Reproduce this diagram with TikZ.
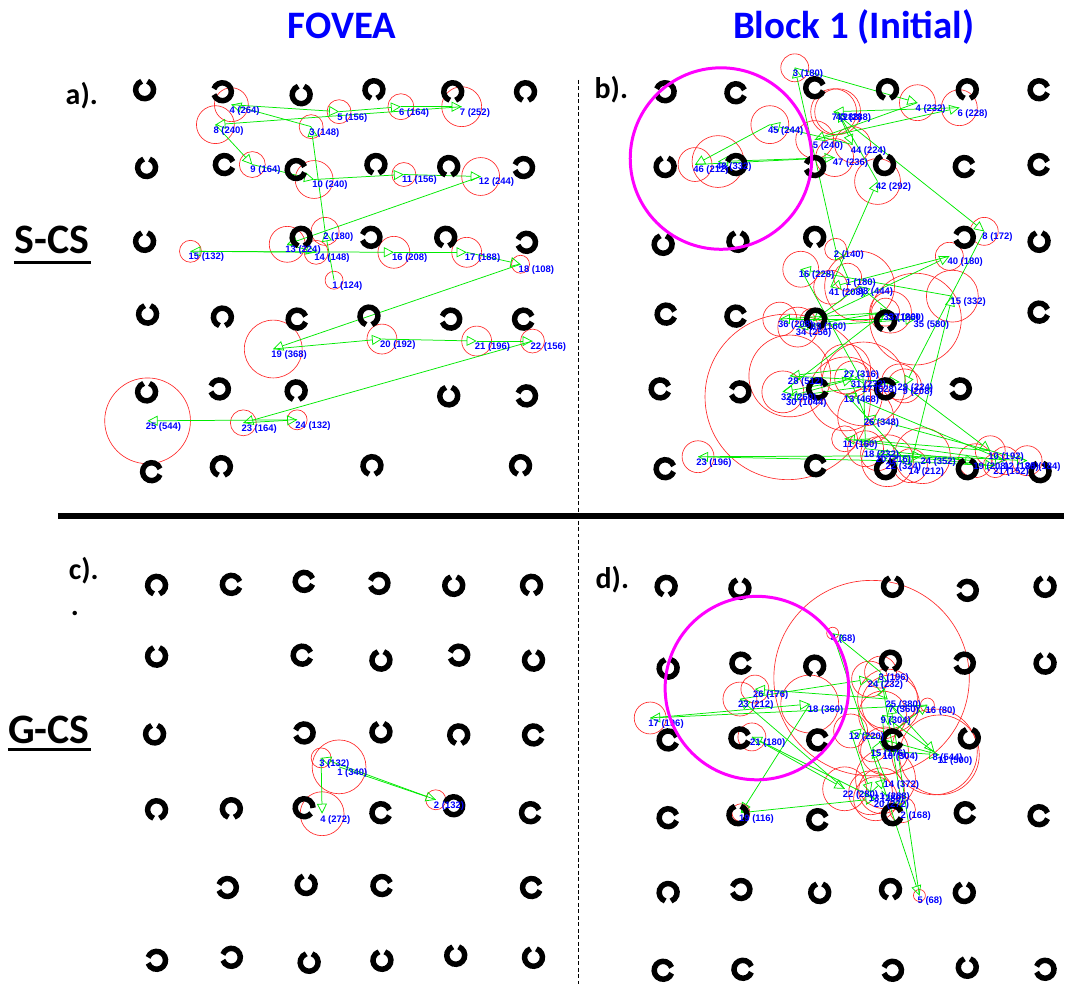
\documentclass[tikz,border=0pt]{standalone}
\usepackage{fontspec}
\setmainfont{Carlito}
\newfontfamily\lblfont{Liberation Sans}
\usetikzlibrary{arrows.meta}
\definecolor{gz}{RGB}{0,235,0}
\definecolor{fxr}{RGB}{255,40,40}
\definecolor{lblue}{RGB}{0,0,255}
\definecolor{mag}{RGB}{255,0,255}
\pgfdeclarelayer{back}
\pgfdeclarelayer{bg}
\pgfdeclarelayer{ring}
\pgfdeclarelayer{lbl}
\pgfdeclarelayer{top}
\pgfsetlayers{back,bg,main,ring,lbl,top}
\tikzset{
  lcring/.style={line width=5.5pt, black},
  fixc/.style={draw=fxr, line width=0.65pt},
  gaze/.style={draw=gz, line width=0.75pt, -{Triangle[open, length=10pt, width=10pt]}},
  fixl/.style={text=lblue, font=\lblfont\fontsize{9.5}{9.5}\selectfont\bfseries, anchor=west, inner sep=0pt},
  hdr/.style={text=lblue, font=\fontsize{39}{39}\selectfont\bfseries, inner sep=0pt},
  plab/.style={text=black, font=\fontsize{30}{30}\selectfont\bfseries, inner sep=0pt},
  rowlab/.style={text=black, font=\fontsize{42}{42}\selectfont\bfseries, inner sep=0pt},
  fovring/.style={draw=mag, line width=3pt},
}
\newcommand{\LC}[3]{\begin{pgfonlayer}{ring}\pgfmathsetmacro{\lca}{#3+19}\pgfmathsetmacro{\lcb}{#3+341}\draw[lcring] (#1,#2) ++(\lca:9) arc[start angle=\lca, end angle=\lcb, radius=9];\end{pgfonlayer}}
\newcommand{\FX}[5]{\coordinate (#1) at (#2,#3);
  \begin{pgfonlayer}{bg}\draw[fixc] (#1) circle[radius=#4];\end{pgfonlayer}
  \begin{pgfonlayer}{lbl}\node[fixl] (#1l) at (#2-2,#3+6) {#5};\end{pgfonlayer}}
\begin{document}
\begin{tikzpicture}[x=1pt,y=-1pt]
\begin{pgfonlayer}{back}
\path[use as bounding box, fill=white] (0,0) rectangle (1067,987);
\end{pgfonlayer}
% headers
\node[hdr] (t1) at (343,26) {FOVEA};
\node[hdr] (t2) at (856,27) {Block 1 (Initial)};
\node[plab] (pa) at (82,96) {a).};
\node[plab] (pb) at (613,90) {b).};
\node[plab] (pc) at (84,572) {c).};
\node[plab] (pd) at (614,581) {d).};
\node[plab] (pdot) at (75,615) {.};
\node[rowlab] (rs) at (52,241) {S-CS};
\draw[line width=3pt] (14,263) -- (91,263);
\node[rowlab] (rg) at (49,732) {G-CS};
\draw[line width=3pt] (8,752) -- (91,752);
% dividers
\draw[line width=6pt] (58,517) -- (1067,517);
\draw[line width=0.8pt, dash pattern=on 4pt off 2.5pt] (580,80) -- (580,987);

% ---------- panel a rings
\LC{145}{90}{270}\LC{223}{92}{180}\LC{302}{95}{270}\LC{375}{90}{90}\LC{454}{92}{90}\LC{527}{92}{90}
\LC{147}{168}{270}\LC{225}{165}{0}\LC{297}{170}{0}\LC{377}{165}{90}\LC{450}{167}{90}\LC{525}{168}{180}
\LC{145}{242}{270}\LC{302}{238}{90}\LC{372}{238}{180}\LC{447}{238}{90}\LC{528}{243}{180}
\LC{148}{315}{270}\LC{223}{318}{90}\LC{298}{320}{0}\LC{370}{317}{90}\LC{452}{320}{180}\LC{525}{320}{0}
\LC{147}{393}{270}\LC{220}{390}{180}\LC{297}{392}{90}\LC{450}{397}{270}\LC{528}{397}{180}
\LC{152}{473}{0}\LC{222}{468}{90}\LC{373}{467}{90}\LC{522}{467}{90}
% panel a fixations
\FX{a1}{335}{281}{9}{1 (124)}
\FX{a2}{326}{232}{14}{2 (180)}
\FX{a3}{312}{127}{12}{3 (148)}
\FX{a4}{232}{105}{17}{4 (264)}
\FX{a5}{340}{112}{12}{5 (156)}
\FX{a6}{402}{107}{13}{6 (164)}
\FX{a7}{463}{107}{20}{7 (252)}
\FX{a8}{216}{125}{19}{8 (240)}
\FX{a9}{253}{165}{13}{9 (164)}
\FX{a10}{315}{180}{19}{10 (240)}
\FX{a11}{405}{175}{12}{11 (156)}
\FX{a12}{482}{177}{19}{12 (244)}
\FX{a13}{288}{245}{18}{13 (224)}
\FX{a14}{317}{253}{12}{14 (148)}
\FX{a15}{191}{252}{11}{15 (132)}
\FX{a16}{395}{253}{16}{16 (208)}
\FX{a17}{468}{253}{15}{17 (188)}
\FX{a18}{522}{265}{9}{18 (108)}
\FX{a19}{274}{350}{29}{19 (368)}
\FX{a20}{383}{340}{15}{20 (192)}
\FX{a21}{478}{342}{15}{21 (196)}
\FX{a22}{534}{342}{12}{22 (156)}
\FX{a23}{244}{424}{13}{23 (164)}
\FX{a24}{298}{421}{10}{24 (132)}
\FX{a25}{148}{422}{43}{25 (544)}
\foreach \i [evaluate=\i as \j using int(\i+1)] in {1,...,24} {\draw[gaze] (a\i) -- (a\j);}

% ---------- panel b rings
\LC{667}{92}{180}\LC{738}{93}{0}\LC{817}{88}{0}\LC{890}{90}{90}\LC{970}{90}{90}\LC{1042}{90}{0}
\LC{667}{167}{270}\LC{738}{165}{180}\LC{817}{167}{180}\LC{887}{165}{270}\LC{967}{167}{0}\LC{1042}{165}{0}
\LC{665}{245}{270}\LC{740}{242}{270}\LC{817}{238}{90}\LC{967}{238}{180}\LC{1042}{242}{270}
\LC{668}{315}{0}\LC{738}{317}{0}\LC{818}{320}{90}\LC{888}{322}{90}\LC{1042}{313}{0}
\LC{662}{390}{0}\LC{742}{393}{180}\LC{820}{390}{0}\LC{888}{390}{0}\LC{963}{390}{180}
\LC{667}{470}{0}\LC{818}{467}{0}\LC{888}{470}{270}\LC{970}{470}{270}\LC{1043}{473}{270}
% panel b fixations
\FX{b1}{850}{278}{14}{1 (180)}
\FX{b2}{838}{250}{11}{2 (140)}
\FX{b3}{797}{68}{14}{3 (180)}
\FX{b4}{920}{103}{18}{4 (232)}
\FX{b5}{817}{140}{19}{5 (240)}
\FX{b6}{962}{108}{18}{6 (228)}
\FX{b7}{836}{112}{23}{7 (288)}
\FX{b8}{987}{232}{14}{8 (172)}
\FX{b9}{907}{387}{17}{9 (208)}
\FX{b10}{993}{452}{15}{10 (192)}
\FX{b11}{847}{440}{13}{11 (160)}
\FX{b12}{1008}{462}{14}{12 (180)}
\FX{b13}{848}{395}{37}{13 (468)}
\FX{b14}{913}{467}{17}{14 (212)}
\FX{b15}{955}{297}{26}{15 (332)}
\FX{b16}{803}{270}{18}{16 (228)}
\FX{b17}{866}{385}{42}{17 (528)}
\FX{b18}{868}{450}{18}{18 (232)}
\FX{b19}{978}{462}{17}{19 (208)}
\FX{b20}{880}{455}{17}{20 (216)}
\FX{b21}{998}{467}{12}{21 (152)}
\FX{b22}{890}{462}{26}{22 (324)}
\FX{b23}{700}{458}{16}{23 (196)}
\FX{b24}{925}{457}{28}{24 (352)}
\FX{b25}{1030}{462}{15}{25 (184)}
\FX{b26}{868}{418}{28}{26 (348)}
\FX{b27}{848}{370}{25}{27 (316)}
\FX{b28}{792}{377}{41}{28 (512)}
\FX{b29}{902}{383}{18}{29 (224)}
\FX{b30}{790}{398}{83}{30 (1044)}
\FX{b31}{855}{380}{18}{31 (232)}
\FX{b32}{785}{393}{21}{32 (260)}
\FX{b33}{888}{313}{14}{33 (180)}
\FX{b34}{800}{328}{20}{34 (256)}
\FX{b35}{918}{320}{46}{35 (580)}
\FX{b36}{782}{320}{17}{36 (208)}
\FX{b37}{893}{313}{21}{37 (260)}
\FX{b38}{862}{287}{35}{38 (444)}
\FX{b39}{815}{322}{13}{39 (160)}
\FX{b40}{952}{257}{14}{40 (180)}
\FX{b41}{833}{288}{17}{41 (208)}
\FX{b42}{880}{182}{23}{42 (292)}
\FX{b43}{840}{112}{23}{43 (288)}
\FX{b44}{855}{145}{18}{44 (224)}
\FX{b45}{772}{125}{19}{45 (244)}
\FX{b46}{697}{165}{17}{46 (212)}
\FX{b47}{837}{158}{19}{47 (236)}
\FX{b48}{720}{162}{26}{48 (332)}
\foreach \i [evaluate=\i as \j using int(\i+1)] in {1,...,47} {\draw[gaze] (b\i) -- (b\j);}
\begin{pgfonlayer}{top}
\node[fovring, circle, minimum size=182pt, inner sep=0pt] (fb) at (723,159) {};
\end{pgfonlayer}

% ---------- panel c rings
\LC{157}{587}{90}\LC{232}{586}{0}\LC{305}{583}{0}\LC{380}{585}{180}\LC{455}{587}{270}\LC{533}{587}{90}
\LC{157}{658}{270}\LC{303}{657}{0}\LC{382}{662}{270}\LC{460}{657}{180}\LC{535}{662}{270}
\LC{155}{736}{270}\LC{305}{735}{180}\LC{382}{734}{270}\LC{460}{737}{90}\LC{535}{737}{0}
\LC{157}{812}{90}\LC{232}{811}{90}\LC{305}{810}{20}\LC{382}{815}{0}\LC{455}{808}{180}\LC{532}{815}{0}
\LC{228}{890}{180}\LC{307}{887}{270}\LC{383}{888}{0}\LC{533}{890}{0}
\LC{157}{963}{180}\LC{232}{960}{180}\LC{310}{965}{270}\LC{383}{963}{270}\LC{457}{958}{270}\LC{535}{960}{270}
% panel c fixations
\FX{c1}{340}{769}{27}{1 (340)}
\FX{c2}{437}{802}{10}{2 (132)}
\FX{c3}{322}{760}{10}{3 (132)}
\FX{c4}{323}{816}{22}{4 (272)}
\draw[gaze] (c1) -- (c2);
\draw[gaze] (c2) -- (c3);
\draw[gaze] (c3) -- (c4);

% ---------- panel d rings
\LC{668}{588}{90}\LC{742}{590}{270}\LC{895}{588}{270}\LC{970}{592}{180}\LC{1048}{588}{270}
\LC{670}{670}{270}\LC{743}{665}{0}\LC{817}{668}{90}\LC{893}{663}{90}\LC{967}{665}{180}\LC{1048}{665}{270}
\LC{670}{742}{0}\LC{742}{740}{0}\LC{820}{742}{0}\LC{895}{742}{0}\LC{972}{740}{270}
\LC{670}{820}{0}\LC{740}{817}{270}\LC{820}{822}{0}\LC{895}{817}{0}\LC{968}{815}{0}\LC{1042}{818}{0}
\LC{670}{895}{90}\LC{743}{892}{180}\LC{822}{895}{270}\LC{893}{892}{90}\LC{967}{895}{270}
\LC{665}{973}{0}\LC{745}{972}{0}\LC{895}{973}{180}\LC{970}{970}{270}\LC{1048}{972}{180}
% panel d fixations
\FX{d1}{884}{793}{23}{1 (288)}
\FX{d2}{905}{812}{13}{2 (168)}
\FX{d3}{883}{674}{16}{3 (196)}
\FX{d4}{835}{635}{6}{4 (68)}
\FX{d5}{922}{898}{6}{5 (68)}
\FX{d7}{893}{706}{29}{7 (360)}
\FX{d8}{937}{754}{43}{8 (544)}
\FX{d9}{885}{717}{24}{9 (304)}
\FX{d10}{887}{753}{24}{10 (304)}
\FX{d11}{942}{757}{40}{11 (500)}
\FX{d12}{853}{733}{17}{12 (220)}
\FX{d13}{873}{795}{22}{13 (280)}
\FX{d14}{888}{781}{30}{14 (372)}
\FX{d15}{875}{750}{14}{15 (176)}
\FX{d16}{930}{707}{7}{16 (80)}
\FX{d17}{652}{720}{16}{17 (196)}
\FX{d18}{812}{706}{29}{18 (360)}
\FX{d19}{743}{815}{9}{19 (116)}
\FX{d20}{878}{801}{22}{20 (272)}
\FX{d21}{754}{739}{14}{21 (180)}
\FX{d22}{847}{791}{22}{22 (280)}
\FX{d23}{742}{701}{17}{23 (212)}
\FX{d24}{872}{681}{18}{24 (232)}
\FX{d25}{890}{701}{30}{25 (380)}
\FX{d26}{757}{691}{14}{26 (176)}
\begin{pgfonlayer}{bg}\draw[fixc] (874,680) circle[radius=98];\end{pgfonlayer}
\foreach \p/\q in {1/2,2/3,3/4,4/5,5/7,7/8,8/9,9/10,10/11,11/12,12/13,13/14,14/15,15/16,16/17,17/18,18/19,19/20,20/21,21/22,22/23,23/24,24/25,25/26} {\draw[gaze] (d\p) -- (d\q);}
\begin{pgfonlayer}{top}
\node[fovring, circle, minimum size=184pt, inner sep=0pt] (fd) at (759,690) {};
\end{pgfonlayer}
\end{tikzpicture}
\end{document}
